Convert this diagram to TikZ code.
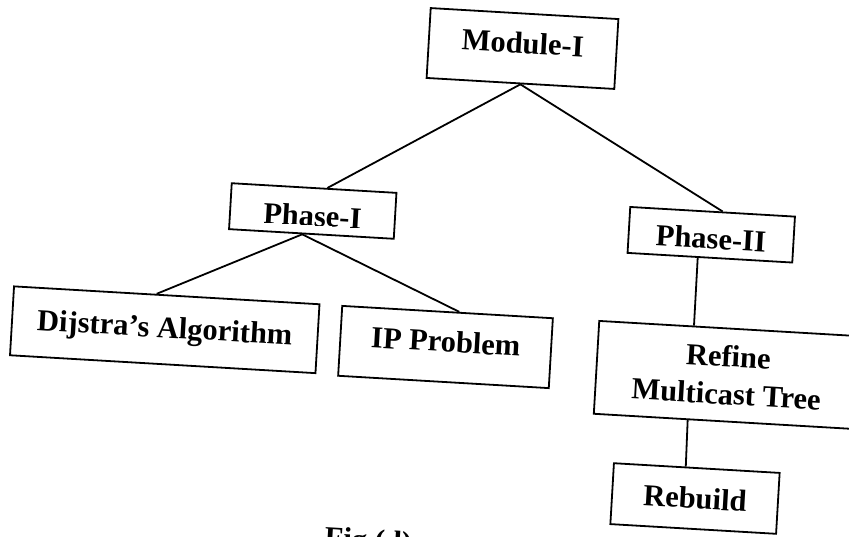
\documentclass[tikz,border=0pt]{standalone}
\usepackage{fontspec}
\setmainfont{Liberation Serif}
\usetikzlibrary{calc}
\newcommand\diagfont{\fontsize{30.5pt}{38pt}\selectfont\bfseries}
\begin{document}
\begin{tikzpicture}[x=1pt,y=-1pt,
  box/.style={draw, line width=1.8pt, rotate=-3.35, inner sep=0pt, font=\diagfont, align=center},
  lbl/.style={rotate=-3.35, inner sep=0pt, font=\diagfont},
  link/.style={line width=1.8pt}]
\useasboundingbox (0,0) rectangle (849,536);
\fill[white] (0,0) rectangle (849,536);

% boxes of the module tree
\node (m)  [box, minimum width=188, minimum height=70, text height=21pt, text depth=11pt] at (522.5,48.5) {Module-I};
\node (p1) [box, minimum width=165, minimum height=46] at (312.75,211) {};
\node (p2) [box, minimum width=165, minimum height=46] at (711.25,234.75) {};
\node (d)  [box, minimum width=306, minimum height=69, text height=21pt, text depth=5pt] at (164.75,329.75) {Dijstra’s Algorithm};
\node (ip) [box, minimum width=211, minimum height=70, text height=21pt, text depth=11pt] at (445.5,347) {IP Problem};
\node (rf) [box, minimum width=262, minimum height=93] at (727.3,375) {Refine\\Multicast Tree};
\node (rb) [box, minimum width=166, minimum height=61, text height=21pt, text depth=1pt] at (695,498.5) {Rebuild};

% phase labels sit low in their boxes and are cut off near the baseline
\begin{scope}
  \clip (p1.north west) -- (p1.north east) -- ($(p1.north east)!0.79!(p1.south east)$) -- ($(p1.north west)!0.79!(p1.south west)$) -- cycle;
  \node (p1l) [lbl, anchor=north] at ($(p1.north)!0.37!(p1.south)$) {Phase-I};
\end{scope}
\begin{scope}
  \clip (p2.north west) -- (p2.north east) -- ($(p2.north east)!0.79!(p2.south east)$) -- ($(p2.north west)!0.79!(p2.south west)$) -- cycle;
  \node (p2l) [lbl, anchor=north] at ($(p2.north)!0.35!(p2.south)$) {Phase-II};
\end{scope}

% connectors
\draw[link] (m.south) -- ($(p1.north west)!0.58!(p1.north east)$);
\draw[link] (m.south) -- ($(p2.north west)!0.56!(p2.north east)$);
\draw[link] ($(p1.south west)!0.445!(p1.south east)$) -- ($(d.north west)!0.467!(d.north east)$);
\draw[link] ($(p1.south west)!0.445!(p1.south east)$) -- ($(ip.north west)!0.555!(ip.north east)$);
\draw[link] ($(p2.south west)!0.427!(p2.south east)$) -- ($(rf.north west)!0.363!(rf.north east)$);
\draw[link] ($(rf.south west)!0.36!(rf.south east)$) -- ($(rb.north west)!0.434!(rb.north east)$);

% caption, running off the lower edge
\node (cap) [lbl, anchor=north] at (369,529) {Fig.(d)};
\end{tikzpicture}
\end{document}
